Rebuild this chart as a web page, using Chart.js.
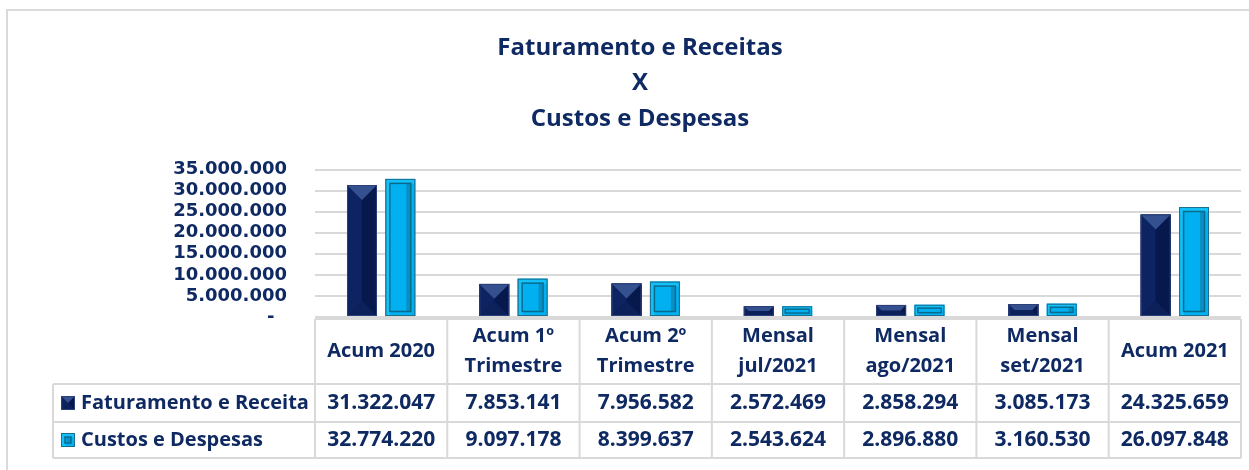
<!DOCTYPE html>
<html>
<head>
<meta charset="utf-8">
<script src="https://cdn.jsdelivr.net/npm/chart.js@4.4.1/dist/chart.umd.min.js"></script>
<style>
html,body{margin:0;padding:0;background:#fff;}
#wrap{width:1249px;height:470px;position:relative;}
</style>
</head>
<body>
<div id="wrap"><canvas id="c" width="1249" height="470"></canvas></div>
<script>
const titleLines = ['Faturamento e Receitas', 'X', 'Custos e Despesas'];
const categories = [
  ['Acum 2020'],
  ['Acum 1º', 'Trimestre'],
  ['Acum 2º', 'Trimestre'],
  ['Mensal', 'jul/2021'],
  ['Mensal', 'ago/2021'],
  ['Mensal', 'set/2021'],
  ['Acum 2021']
];
const seriesNames = ['Faturamento e Receita', 'Custos e Despesas'];
const faturamento = [31322047, 7853141, 7956582, 2572469, 2858294, 3085173, 24325659];
const custos = [32774220, 9097178, 8399637, 2543624, 2896880, 3160530, 26097848];
const yMin = 0;
const yMax = 35000000;
const yStep = 5000000;

const NAVY = '#0f2a62';
const GRID = '#d9d9d9';
const DARK = '#0b1f5a';
const CYAN = '#00b0f0';

function fmt(n) {
  return String(Math.round(n)).replace(/\B(?=(\d{3})+(?!\d))/g, '.');
}

function poly(ctx, pts, color) {
  ctx.beginPath();
  ctx.moveTo(pts[0][0], pts[0][1]);
  for (let i = 1; i < pts.length; i++) ctx.lineTo(pts[i][0], pts[i][1]);
  ctx.closePath();
  ctx.fillStyle = color;
  ctx.fill();
}

function drawDark(ctx, l, t, r, b) {
  const w = r - l, h = b - t;
  const bv = Math.min(w / 2, h / 2, 15);
  ctx.fillStyle = '#0a1d57';
  ctx.fillRect(l, t, w, h);
  poly(ctx, [[l, t], [l + bv, t + bv], [l + bv, b - bv], [l, b]], '#0e2462');
  poly(ctx, [[r, t], [r, b], [r - bv, b - bv], [r - bv, t + bv]], '#07184c');
  poly(ctx, [[l, b], [r, b], [r - bv, b - bv], [l + bv, b - bv]], '#0c2159');
  poly(ctx, [[l, t], [r, t], [r - bv, t + bv], [l + bv, t + bv]], '#34508f');
  ctx.strokeStyle = '#2b3f78';
  ctx.lineWidth = 1;
  ctx.strokeRect(l + 0.5, t + 0.5, w - 1, h - 1);
}

function drawCyan(ctx, l, t, r, b) {
  const w = r - l, h = b - t;
  const bv = Math.min(4, w / 4, h / 4);
  ctx.fillStyle = CYAN;
  ctx.fillRect(l, t, w, h);
  ctx.fillStyle = '#13c0f7';
  ctx.fillRect(l + 1, t + 1, w - 2, bv);
  ctx.fillRect(l + 1, t + 1, bv, h - 2);
  if (h > 12) {
    ctx.fillStyle = '#0a8fc2';
    ctx.fillRect(r - bv - 5, t + bv + 1, 4, h - 2 * bv - 2);
  }
  ctx.strokeStyle = '#0a6a8e';
  ctx.lineWidth = 1.5;
  ctx.strokeRect(l + bv + 0.5, t + bv + 0.5, Math.max(w - 2 * bv - 1, 0), Math.max(h - 2 * bv - 1, 0));
  ctx.strokeStyle = '#1d6f8f';
  ctx.lineWidth = 1;
  ctx.strokeRect(l + 0.5, t + 0.5, w - 1, h - 1);
}

const framePlugin = {
  id: 'frame',
  beforeDraw(chart) {
    const ctx = chart.ctx;
    ctx.save();
    ctx.fillStyle = '#ffffff';
    ctx.fillRect(0, 0, chart.width, chart.height);
    ctx.strokeStyle = '#dadada';
    ctx.lineWidth = 2;
    ctx.beginPath();
    ctx.moveTo(7, chart.height);
    ctx.lineTo(7, 10);
    ctx.lineTo(chart.width, 10);
    ctx.stroke();
    ctx.restore();
  }
};

const bevelPlugin = {
  id: 'bevel',
  afterDatasetsDraw(chart) {
    const ctx = chart.ctx;
    ctx.save();
    chart.data.datasets.forEach((ds, di) => {
      const meta = chart.getDatasetMeta(di);
      meta.data.forEach(el => {
        const p = el.getProps(['x', 'y', 'base', 'width'], true);
        const l = p.x - p.width / 2, r = p.x + p.width / 2;
        const t = Math.min(p.y, p.base), b = Math.max(p.y, p.base);
        if (di === 0) drawDark(ctx, l, t, r, b); else drawCyan(ctx, l, t, r, b);
      });
    });
    ctx.restore();
  }
};

const tablePlugin = {
  id: 'dataTable',
  afterDraw(chart) {
    const ctx = chart.ctx;
    const ca = chart.chartArea;
    const xs = chart.scales.x;
    const n = categories.length;
    const cw = (ca.right - ca.left) / n;
    const hTop = ca.bottom + 2;
    const hBot = hTop + 65;
    const r1Bot = hBot + 38;
    const r2Bot = r1Bot + 36;
    const labelLeft = 53;
    ctx.save();
    ctx.strokeStyle = GRID;
    ctx.lineWidth = 2;
    ctx.beginPath();
    ctx.moveTo(ca.left, hTop); ctx.lineTo(ca.right, hTop);
    [hBot, r1Bot, r2Bot].forEach(y => { ctx.moveTo(labelLeft, y); ctx.lineTo(ca.right, y); });
    for (let i = 0; i <= n; i++) {
      const x = ca.left + i * cw;
      ctx.moveTo(x, hTop); ctx.lineTo(x, r2Bot);
    }
    ctx.moveTo(labelLeft, hBot); ctx.lineTo(labelLeft, r2Bot);
    ctx.stroke();

    ctx.fillStyle = NAVY;
    ctx.font = 'bold 20px "Open Sans"';
    ctx.textAlign = 'center';
    ctx.textBaseline = 'middle';
    const hMid = (hTop + hBot) / 2;
    categories.forEach((lines, i) => {
      const x = xs.getPixelForValue(i);
      if (lines.length === 1) {
        ctx.fillText(lines[0], x, hMid);
      } else {
        ctx.fillText(lines[0], x, hMid - 15);
        ctx.fillText(lines[1], x, hMid + 15);
      }
    });
    const rows = [faturamento, custos];
    const rowMids = [(hBot + r1Bot) / 2, (r1Bot + r2Bot) / 2];
    ctx.font = 'bold 21px "Open Sans"';
    rows.forEach((vals, ri) => {
      vals.forEach((v, i) => {
        ctx.fillText(fmt(v), xs.getPixelForValue(i), rowMids[ri]);
      });
    });
    ctx.font = 'bold 20px "Open Sans"';
    ctx.textAlign = 'left';
    seriesNames.forEach((name, ri) => {
      const ym = rowMids[ri];
      if (ri === 0) drawDark(ctx, 61, ym - 7, 75, ym + 7);
      else drawCyan(ctx, 61, ym - 7, 75, ym + 7);
      ctx.fillStyle = NAVY;
      ctx.fillText(name, 81, ym);
    });
    ctx.restore();
  }
};

new Chart(document.getElementById('c'), {
  type: 'bar',
  data: {
    labels: categories.map(c => c.join(' ')),
    datasets: [
      { label: seriesNames[0], data: faturamento, backgroundColor: DARK, categoryPercentage: 0.58, barPercentage: 0.78 },
      { label: seriesNames[1], data: custos, backgroundColor: CYAN, categoryPercentage: 0.58, barPercentage: 0.78 }
    ]
  },
  options: {
    responsive: false,
    animation: false,
    layout: { padding: { left: 39, right: 8, top: 0, bottom: 153 } },
    plugins: {
      legend: { display: false },
      tooltip: { enabled: false },
      title: {
        display: true,
        text: titleLines,
        color: NAVY,
        font: { family: 'Open Sans', size: 24, weight: 'bold', lineHeight: '35.5px' },
        padding: { top: 30, bottom: 33 }
      }
    },
    scales: {
      x: { display: false },
      y: {
        min: yMin,
        max: yMax,
        border: { display: false },
        grid: { color: GRID, lineWidth: 2, drawTicks: false },
        ticks: {
          stepSize: yStep,
          autoSkip: false,
          padding: 28,
          color: NAVY,
          font: { family: 'DejaVu Sans', size: 18, weight: 'bold', lineHeight: 1 },
          callback: v => v === 0 ? '-  ' : fmt(v)
        },
        afterFit(scale) { scale.width = 276; }
      }
    }
  },
  plugins: [framePlugin, bevelPlugin, tablePlugin]
});
</script>
</body>
</html>
